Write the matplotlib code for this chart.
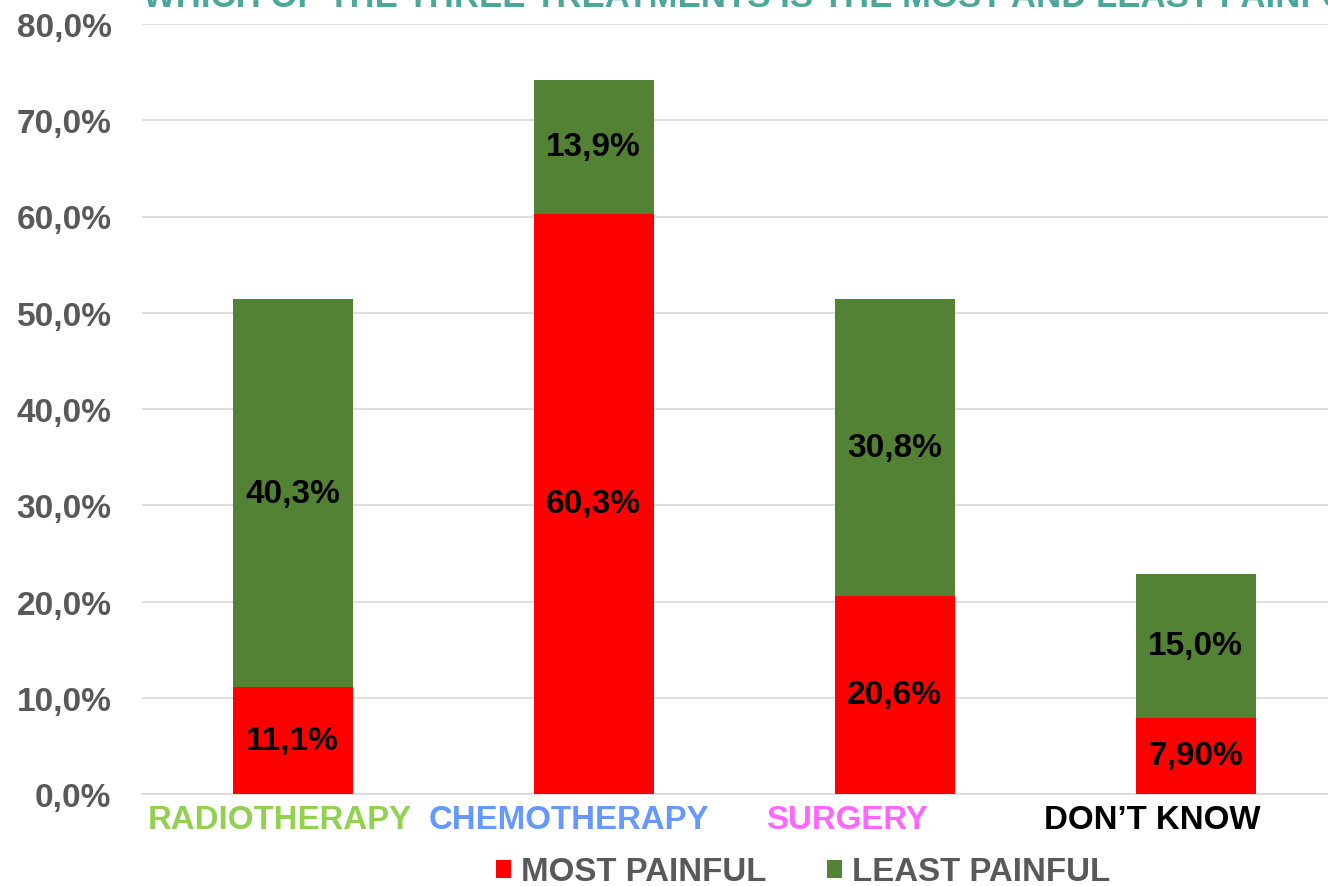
import matplotlib
matplotlib.use("Agg")
import matplotlib.pyplot as plt
import matplotlib.transforms as mtransforms
import numpy as np

categories = ["RADIOTHERAPY", "CHEMOTHERAPY", "SURGERY", "DON\u2019T KNOW"]
cat_colors = ["#92d050", "#6699ff", "#ff66ff", "#000000"]
most_painful = [11.1, 60.3, 20.6, 7.9]
least_painful = [40.3, 13.9, 30.8, 15.0]
most_labels = ["11,1%", "60,3%", "20,6%", "7,90%"]
least_labels = ["40,3%", "13,9%", "30,8%", "15,0%"]
yticks = [0, 10, 20, 30, 40, 50, 60, 70, 80]
series_names = ["MOST PAINFUL", "LEAST PAINFUL"]
title = "WHICH OF THE THREE TREATMENTS IS THE MOST AND LEAST PAINFUL?"

plt.rcParams['font.family'] = ['Liberation Sans', 'DejaVu Sans']
plt.rcParams['font.weight'] = 'bold'

fig = plt.figure(figsize=(13.28, 8.87), dpi=100)
ax = fig.add_axes([142/1328, 1-795/887, 1204/1328, (795-25)/887])

x = np.arange(len(categories))
w = 120/301
b1 = ax.bar(x, most_painful, w, color="#ff0000", label=series_names[0], zorder=3)
b2 = ax.bar(x, least_painful, w, bottom=most_painful, color="#548235", label=series_names[1], zorder=3)

for i in range(len(categories)):
    ax.text(x[i], most_painful[i]/2, most_labels[i], ha='center', va='center',
            fontsize=24, fontweight='bold', color='black', zorder=4)
    ax.text(x[i], most_painful[i] + least_painful[i]/2, least_labels[i], ha='center', va='center',
            fontsize=24, fontweight='bold', color='black', zorder=4)

ax.set_xlim(-0.5, len(categories)-0.5)
ax.set_ylim(0, 80)
ax.set_yticks(yticks)
ax.set_yticklabels([f"{v:.1f}%".replace('.', ',') for v in yticks], fontsize=24,
                   fontweight='bold', color="#595959")
ax.set_xticks(x)
ax.set_xticklabels([])
label_shift_px = [-13, -25, -48, -43]
for i, (name, c, dx) in enumerate(zip(categories, cat_colors, label_shift_px)):
    tr = ax.get_xaxis_transform() + mtransforms.ScaledTranslation(dx/100, -10/100, fig.dpi_scale_trans)
    ax.text(x[i], 0, name, transform=tr, ha='center', va='top', fontsize=23.8,
            fontweight='bold', color=c, clip_on=False)
ax.tick_params(axis='both', length=0)
ax.tick_params(axis='y', pad=22)
ax.grid(axis='y', color="#d9d9d9", linewidth=1.2, zorder=0)
for s in ['top', 'right', 'left']:
    ax.spines[s].set_visible(False)
ax.spines['bottom'].set_color("#d9d9d9")
ax.spines['bottom'].set_linewidth(1.2)
ax.set_facecolor('none')

fig.text(143/1328, 1 - 7/887, title, ha='left', va='baseline', fontsize=25,
         fontweight='bold', color="#4aa89a")

leg = fig.legend(handles=[b1, b2], labels=series_names, loc='center',
                 bbox_to_anchor=(803/1328, 1 - 873/887), ncol=2, frameon=False,
                 prop={'size': 23.8, 'weight': 'bold'}, handlelength=0.45, handleheight=0.45,
                 handletextpad=0.3, columnspacing=1.85, borderpad=0.1)
for t in leg.get_texts():
    t.set_color("#595959")

fig.savefig("out.png", dpi=100)
